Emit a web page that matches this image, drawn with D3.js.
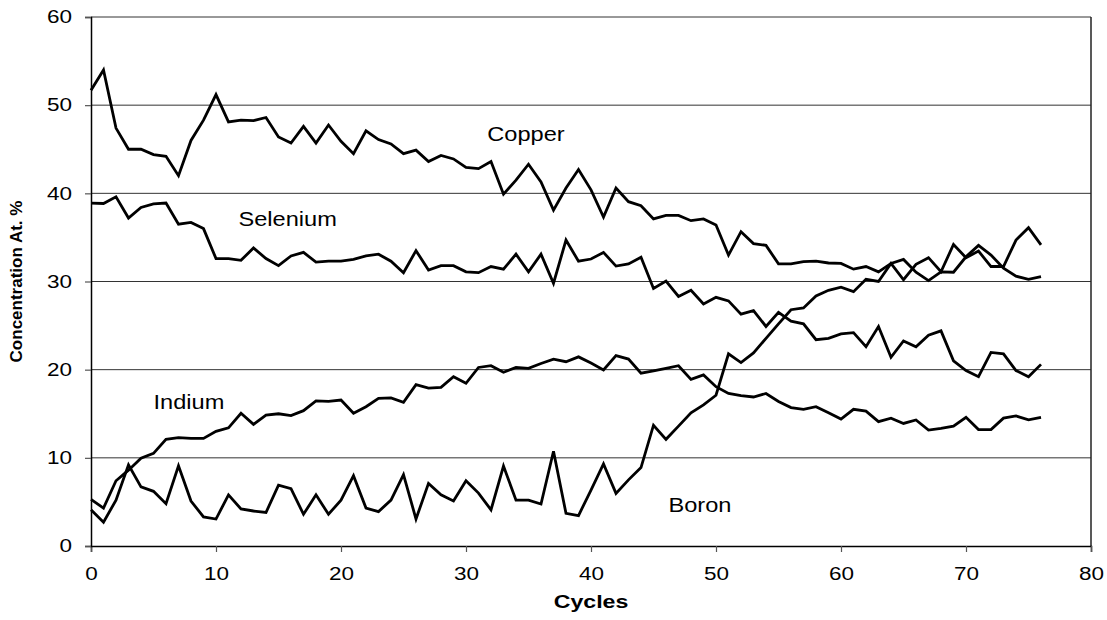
<!DOCTYPE html>
<html>
<head>
<meta charset="utf-8">
<script src="https://cdn.jsdelivr.net/npm/d3@7"></script>
<style>
  body { margin: 0; background: #fff; }
  svg { display: block; }
</style>
</head>
<body>
<div id="canvas"></div>
<script>
// Values, one per cycle (0..76).
const copper = [51.7, 54.0, 47.4, 45.0, 45.0, 44.4, 44.2, 42.0, 46.0, 48.3, 51.2, 48.1, 48.3, 48.25, 48.6, 46.4, 45.7, 47.6, 45.7, 47.75,
    45.9, 44.5, 47.1, 46.1, 45.6, 44.5, 44.9, 43.6, 44.3, 43.9, 42.95, 42.8, 43.6, 39.9, 41.5, 43.3, 41.3, 38.1, 40.6, 42.7,
    40.4, 37.3, 40.6, 39.05, 38.6, 37.1, 37.5, 37.5, 36.9, 37.1, 36.4, 33.0, 35.65, 34.3, 34.1, 32.0, 32.0, 32.25, 32.3, 32.1,
    32.05, 31.4, 31.7, 31.1, 32.05, 32.5, 31.05, 30.1, 31.1, 31.05, 32.8, 34.1, 33.0, 31.5, 30.6, 30.25, 30.55];
const selenium = [38.9, 38.85, 39.6, 37.2, 38.4, 38.8, 38.9, 36.5, 36.7, 36.0, 32.6, 32.6, 32.4, 33.8, 32.6, 31.8, 32.9, 33.3, 32.2, 32.3,
    32.3, 32.5, 32.9, 33.1, 32.3, 31.0, 33.5, 31.3, 31.8, 31.8, 31.1, 31.0, 31.7, 31.4, 33.1, 31.1, 33.1, 29.8, 34.7, 32.3,
    32.55, 33.3, 31.75, 32.0, 32.75, 29.2, 30.05, 28.3, 29.0, 27.45, 28.2, 27.8, 26.3, 26.7, 24.9, 26.5, 25.5, 25.2, 23.4, 23.55,
    24.05, 24.2, 22.6, 24.9, 21.4, 23.25, 22.6, 23.9, 24.4, 21.0, 19.9, 19.2, 21.95, 21.8, 19.9, 19.2, 20.6];
const indium = [5.3, 4.3, 7.4, 8.6, 9.95, 10.5, 12.1, 12.3, 12.2, 12.2, 13.0, 13.4, 15.05, 13.8, 14.85, 15.0, 14.8, 15.35, 16.45, 16.4,
    16.55, 15.05, 15.8, 16.75, 16.8, 16.3, 18.3, 17.9, 18.0, 19.2, 18.45, 20.25, 20.45, 19.7, 20.25, 20.15, 20.7, 21.2, 20.9, 21.45,
    20.75, 19.96, 21.6, 21.2, 19.6, 19.85, 20.15, 20.45, 18.9, 19.4, 18.07, 17.3, 17.05, 16.9, 17.3, 16.4, 15.7, 15.5, 15.8, 15.1,
    14.4, 15.5, 15.3, 14.1, 14.5, 13.9, 14.3, 13.15, 13.35, 13.6, 14.6, 13.2, 13.2, 14.5, 14.75, 14.3, 14.6];
const boron = [4.1, 2.7, 5.2, 9.2, 6.7, 6.2, 4.8, 9.1, 5.1, 3.3, 3.06, 5.8, 4.2, 3.97, 3.8, 6.9, 6.5, 3.6, 5.8, 3.6,
    5.2, 7.97, 4.3, 3.9, 5.2, 8.1, 3.06, 7.1, 5.8, 5.1, 7.4, 6.0, 4.1, 9.07, 5.2, 5.2, 4.76, 10.75, 3.7, 3.45,
    6.35, 9.3, 5.97, 7.5, 8.9, 13.7, 12.1, 13.6, 15.1, 16.0, 17.1, 21.8, 20.8, 21.9, 23.55, 25.2, 26.8, 27.0, 28.35, 29.0,
    29.35, 28.85, 30.25, 30.0, 32.05, 30.2, 31.95, 32.7, 31.1, 34.2, 32.7, 33.45, 31.7, 31.7, 34.7, 36.1, 34.15];

// Series names and the (cycle, value) spot where each in-chart label starts.
const seriesNames = ["Copper", "Selenium", "Indium", "Boron"];
const seriesValues = [copper, selenium, indium, boron];
const labelAnchors = [[31.7, 45.9], [11.8, 36.3], [5.0, 15.5], [46.2, 3.9]];

// Tick labels.
const xTicks = [0, 10, 20, 30, 40, 50, 60, 70, 80];
const yTicks = [0, 10, 20, 30, 40, 50, 60];

const w = 1107, h = 620;
const plot = { left: 91, right: 1091, top: 17, bottom: 546 };
const font = "Arial, 'Liberation Sans', sans-serif";

const svg = d3.select("#canvas")
    .append("svg")
    .attr("width", w)
    .attr("height", h);

const xScale = d3.scaleLinear().domain([0, 80]).range([plot.left, plot.right]);
const yScale = d3.scaleLinear().domain([0, 60]).range([plot.bottom, plot.top]);

// Horizontal gridlines.
svg.append("g")
    .selectAll("line")
    .data(yTicks.filter(d => d > 0))
    .enter()
    .append("line")
    .attr("x1", plot.left)
    .attr("x2", plot.right)
    .attr("y1", d => yScale(d))
    .attr("y2", d => yScale(d))
    .attr("stroke", "#333")
    .attr("stroke-width", 1);

// Right edge of the plot area.
svg.append("line")
    .attr("x1", plot.right).attr("x2", plot.right)
    .attr("y1", plot.top).attr("y2", plot.bottom)
    .attr("stroke", "#222")
    .attr("stroke-width", 1.5);

// Axes.
const xAxis = svg.append("g")
    .attr("transform", `translate(0,${plot.bottom})`)
    .call(d3.axisBottom(xScale).tickValues(xTicks).tickSize(6).tickPadding(6));

const yAxis = svg.append("g")
    .attr("transform", `translate(${plot.left},0)`)
    .call(d3.axisLeft(yScale).tickValues(yTicks).tickSize(6).tickPadding(6));

[xAxis, yAxis].forEach(ax => {
    ax.select(".domain").attr("stroke", "#000").attr("stroke-width", 1.5);
    ax.selectAll(".tick line").attr("stroke", "#555").attr("stroke-width", 1.2);
    ax.selectAll("text")
        .attr("font-family", font)
        .attr("font-size", 18)
        .attr("fill", "#000");
});

// The labels in the picture are a little wider than tall, so stretch them.
xAxis.selectAll("text")
    .attr("y", 0)
    .attr("dy", "1.9em")
    .attr("transform", "scale(1.25,1)");
yAxis.selectAll("text")
    .attr("x", -19 / 1.25)
    .attr("transform", "scale(1.25,1)");

// Lines.
const line = d3.line()
    .x((d, i) => xScale(i))
    .y(d => yScale(d));

svg.append("g")
    .selectAll("path")
    .data(seriesValues)
    .enter()
    .append("path")
    .attr("d", line)
    .attr("fill", "none")
    .attr("stroke", "#000")
    .attr("stroke-width", 2.8)
    .attr("stroke-linejoin", "miter");

// Series labels inside the plot.
svg.append("g")
    .selectAll("g")
    .data(seriesNames)
    .enter()
    .append("g")
    .attr("transform", (d, i) => `translate(${xScale(labelAnchors[i][0])},${yScale(labelAnchors[i][1])})`)
    .append("text")
    .text(d => d)
    .attr("transform", "scale(1.18,1)")
    .attr("font-family", font)
    .attr("font-size", 20)
    .attr("fill", "#000");

// Axis titles.
svg.append("g")
    .attr("transform", `translate(${(plot.left + plot.right) / 2},608)`)
    .append("text")
    .text("Cycles")
    .attr("transform", "scale(1.22,1)")
    .attr("text-anchor", "middle")
    .attr("font-family", font)
    .attr("font-weight", "bold")
    .attr("font-size", 19);

svg.append("text")
    .text("Concentration At. %")
    .attr("transform", `translate(22,${(plot.top + plot.bottom) / 2}) rotate(-90)`)
    .attr("text-anchor", "middle")
    .attr("font-family", font)
    .attr("font-weight", "bold")
    .attr("font-size", 17);
</script>
</body>
</html>
